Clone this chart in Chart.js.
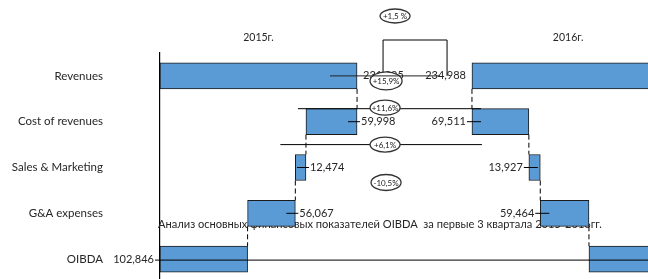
<!DOCTYPE html>
<html>
<head>
<meta charset="utf-8">
<script src="https://cdn.jsdelivr.net/npm/chart.js@4.4.0/dist/chart.umd.min.js"></script>
<style>
  html, body { margin: 0; padding: 0; background: #fff; overflow: hidden; }
  #wrap { position: relative; width: 648px; height: 282px; }
</style>
</head>
<body>
<div id="wrap"><canvas id="chart" width="648" height="282"></canvas></div>
<script>
const categories = ["Revenues", "Cost of revenues", "Sales & Marketing", "G&A expenses", "OIBDA"];
const values2015 = [231385, 59998, 12474, 56067, 102846];
const values2016 = [234988, 69511, 13927, 59464, 92086];
const years = ["2015г.", "2016г."];
const changes = ["+1,5 %", "+15,9%", "+11,6%", "+6,1%", "-10,5%"];
const title = "Анализ основных финансовых показателей OIBDA  за первые 3 квартала 2015-2016гг.";

const FONT = "Lato, 'Open Sans', sans-serif";
const TEXT = "#262626";

// left side: costs are taken off revenues from the right
function leftRanges(v) {
    const out = [[0, v[0]]];
    let run = v[0];
    for (let i = 1; i < v.length - 1; i++) {
        out.push([run - v[i], run]);
        run -= v[i];
    }
    out.push([0, v[v.length - 1]]);
    return out;
}

// right side: costs stack up from zero, OIBDA is what is left
function rightRanges(v) {
    const out = [[0, v[0]]];
    let run = 0;
    for (let i = 1; i < v.length; i++) {
        out.push([run, run + v[i]]);
        run += v[i];
    }
    return out;
}

const fmt = n => n.toLocaleString("en-US");

function ellipse(ctx, cx, cy, rx, ry, text) {
    ctx.save();
    ctx.setLineDash([]);
    ctx.beginPath();
    ctx.ellipse(cx, cy, rx, ry, 0, 0, Math.PI * 2);
    ctx.fillStyle = "#fff";
    ctx.fill();
    ctx.lineWidth = 1.3;
    ctx.strokeStyle = "#333";
    ctx.stroke();
    ctx.fillStyle = "#1a1a1a";
    ctx.font = "8px " + FONT;
    ctx.textAlign = "center";
    ctx.textBaseline = "middle";
    ctx.fillText(text, cx, cy + 0.5);
    ctx.restore();
}

function line(ctx, x1, y1, x2, y2) {
    ctx.beginPath();
    ctx.moveTo(x1, y1);
    ctx.lineTo(x2, y2);
    ctx.stroke();
}

const titlePlugin = {
    id: "titleBehind",
    beforeDatasetsDraw(chart) {
        const ctx = chart.ctx;
        ctx.save();
        ctx.fillStyle = TEXT;
        ctx.font = "11.1px " + FONT;
        ctx.textAlign = "center";
        ctx.textBaseline = "middle";
        ctx.fillText(title, 380, 224.5);
        ctx.restore();
    }
};

const annotations = {
    id: "annotations",
    afterDatasetsDraw(chart) {
        const ctx = chart.ctx;
        const L = chart.getDatasetMeta(0).data;
        const R = chart.getDatasetMeta(1).data;
        const lo = b => Math.min(b.x, b.base);
        const hi = b => Math.max(b.x, b.base);
        ctx.save();
        ctx.strokeStyle = "#000";
        ctx.lineWidth = 1;

        // dashed connectors between steps
        ctx.setLineDash([5, 3]);
        for (let i = 0; i < L.length - 1; i++) {
            const a = L[i], b = L[i + 1];
            const xl = i === 0 ? hi(a) : lo(a);
            line(ctx, xl, a.y + a.height / 2, xl, b.y - b.height / 2);
            const c = R[i], d = R[i + 1];
            const xr = i === 0 ? lo(c) : hi(c);
            line(ctx, xr, c.y + c.height / 2, xr, d.y - d.height / 2);
        }
        ctx.setLineDash([]);

        // year headers
        ctx.fillStyle = TEXT;
        ctx.font = "10.5px " + FONT;
        ctx.textAlign = "center";
        ctx.textBaseline = "middle";
        ctx.fillText(years[0], (L[0].x + L[0].base) / 2, 38);
        ctx.fillText(years[1], (R[0].x + R[0].base) / 2, 38);

        // value labels with small leader ticks
        ctx.font = "11px " + FONT;
        ctx.textBaseline = "middle";
        for (let i = 0; i < L.length; i++) {
            const b = L[i];
            if (i === L.length - 1) {
                ctx.textAlign = "right";
                ctx.fillText(fmt(values2015[i]), lo(b) - 6, b.y);
            } else {
                ctx.textAlign = "left";
                ctx.fillText(fmt(values2015[i]), hi(b) + (i === 0 ? 6 : 4), b.y);
                if (i > 0) line(ctx, hi(b) - 9, b.y, hi(b) + 3, b.y);
            }
        }
        for (let i = 0; i < R.length - 1; i++) {
            const b = R[i];
            ctx.textAlign = "right";
            ctx.fillText(fmt(values2016[i]), lo(b) - 6, b.y);
            if (i > 0) line(ctx, lo(b) - 5, b.y, lo(b) + 9, b.y);
        }

        // long leader lines
        line(ctx, lo(L[1]) - 8, L[1].y - L[1].height / 2, lo(R[1]) + 9, L[1].y - L[1].height / 2);
        const mid12 = (L[1].y + L[2].y) / 2;
        line(ctx, lo(L[2]) - 15, mid12, lo(R[1]) + 10, mid12);
        line(ctx, lo(L[4]) - 5, L[4].y + 1, chart.chartArea.right, L[4].y + 1);

        // bracket above revenues
        const bx1 = hi(L[0]) + 26, bx2 = hi(L[0]) + 90;
        ctx.beginPath();
        ctx.moveTo(bx1, L[0].y);
        ctx.lineTo(bx1, 40);
        ctx.lineTo(bx2, 40);
        ctx.lineTo(bx2, L[0].y);
        ctx.stroke();

        // change bubbles
        const cx = hi(L[0]) + 29;
        ellipse(ctx, cx + 9, 16, 15, 7, changes[0]);
        ellipse(ctx, cx, L[0].y + 5, 16, 9, changes[1]);
        ellipse(ctx, cx - 1, L[1].y - 14, 15, 7.5, changes[2]);
        ellipse(ctx, cx - 1, mid12, 15, 7.5, changes[3]);
        ellipse(ctx, cx, L[2].y + 15, 15, 8, changes[4]);

        // revenues leader runs over everything
        ctx.strokeStyle = "#222";
        line(ctx, hi(L[0]) - 27, L[0].y, hi(L[0]) + 83, L[0].y);
        ctx.restore();
    }
};

const barStyle = {
    backgroundColor: "#5B9BD5",
    borderColor: "#1a1a1a",
    borderWidth: 1,
    borderSkipped: false,
    barThickness: 26,
    grouped: false
};

new Chart(document.getElementById("chart").getContext("2d"), {
    type: "bar",
    data: {
        labels: categories,
        datasets: [
            Object.assign({ label: years[0], data: leftRanges(values2015), xAxisID: "x" }, barStyle),
            Object.assign({ label: years[1], data: rightRanges(values2016), xAxisID: "x2" }, barStyle)
        ]
    },
    options: {
        indexAxis: "y",
        responsive: false,
        animation: false,
        layout: { padding: { top: 53, right: 0, bottom: 0, left: 0 } },
        plugins: {
            legend: { display: false },
            tooltip: { enabled: false }
        },
        scales: {
            x: { display: false, min: 0, max: 573000 },
            x2: { display: false, min: -381000, max: 215000 },
            y: {
                grid: { display: false, drawTicks: false },
                border: { display: true, color: "#000", width: 1.2 },
                ticks: { padding: 57, color: TEXT, font: { family: FONT, size: 11.5 } },
                afterFit: scale => {
                    scale.width = 160;
                    scale.paddingTop = 0;
                    scale.paddingBottom = 0;
                }
            }
        }
    },
    plugins: [titlePlugin, annotations]
});
</script>
</body>
</html>
